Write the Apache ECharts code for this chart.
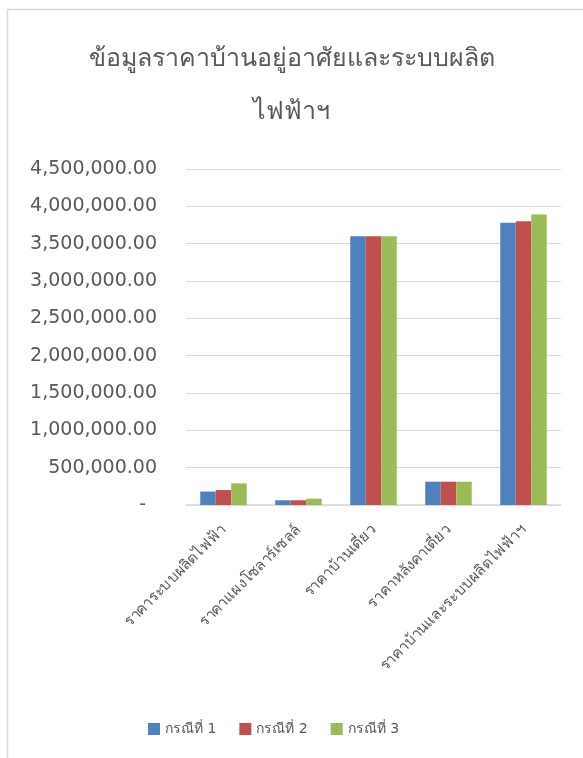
<!DOCTYPE html>
<html><head><meta charset="utf-8">
<script src="https://cdn.jsdelivr.net/npm/echarts@6/dist/echarts.min.js"></script>
<style>html,body{margin:0;padding:0;background:#fff}#c{width:583px;height:758px}</style>
</head><body><div id="c"></div>
<script>
const categories = ['ราคาระบบผลิตไฟฟ้า','ราคาแผงโซลาร์เซลล์','ราคาบ้านเดี่ยว','ราคาหลังคาเดี่ยว','ราคาบ้านและระบบผลิตไฟฟ้าฯ'];
const seriesNames = ['กรณีที่ 1','กรณีที่ 2','กรณีที่ 3'];
const case1 = [180000, 63000, 3600000, 312000, 3780000];
const case2 = [200000, 63000, 3600000, 312000, 3800000];
const case3 = [290000, 85000, 3600000, 312000, 3890000];
const colors = ['#4f81bd','#c0504d','#9bbb59'];
const titleText = 'ข้อมูลราคาบ้านอยู่อาศัยและระบบผลิต\nไฟฟ้าฯ';

const chart = echarts.init(document.getElementById('c'));
const font = '"DejaVu Sans", "Noto Sans", sans-serif';
const fmt = v => {
  if (v === 0) return '{z|-}';
  return v.toLocaleString('en-US', {minimumFractionDigits: 2, maximumFractionDigits: 2});
};
chart.setOption({
  animation: false,
  color: colors,
  graphic: [{type:'rect', shape:{x:7.5, y:9.5, width:700, height:900}, style:{fill:'none', stroke:'#d9d9d9', lineWidth:1.5}, silent:true}],
  title: {text: titleText, left: 'center', top: 28,
    textStyle: {fontSize: 25, fontWeight: 'normal', color: '#595959', lineHeight: 53, fontFamily: font}},
  legend: {data: seriesNames, left: 143, top: 717, itemWidth: 12, itemHeight: 12, itemGap: 23,
    icon: 'rect', textStyle: {fontSize: 14, color: '#595959', fontFamily: font}},
  grid: {left: 186, right: 22, top: 169, bottom: 253, containLabel: false},
  xAxis: {type: 'category', data: categories,
    axisLine: {lineStyle: {color: '#d9d9d9', width: 1.5}},
    axisTick: {show: false},
    axisLabel: {rotate: 45, margin: 23, fontSize: 15, color: '#595959', fontFamily: font, interval: 0}},
  yAxis: {type: 'value', min: 0, max: 4500000, interval: 500000,
    axisLine: {show: false}, axisTick: {show: false},
    splitLine: {lineStyle: {color: '#d9d9d9', width: 1}},
    axisLabel: {margin: 29, fontSize: 19, color: '#595959', fontFamily: font, formatter: fmt,
      rich: {z: {fontSize: 19, color: '#595959', fontFamily: font, padding: [0, 11, 0, 0]}}}},
  series: [case1, case2, case3].map((d, i) => ({
    name: seriesNames[i], type: 'bar', data: d, barWidth: 15.5, barGap: '0%'
  }))
});
</script></body></html>
